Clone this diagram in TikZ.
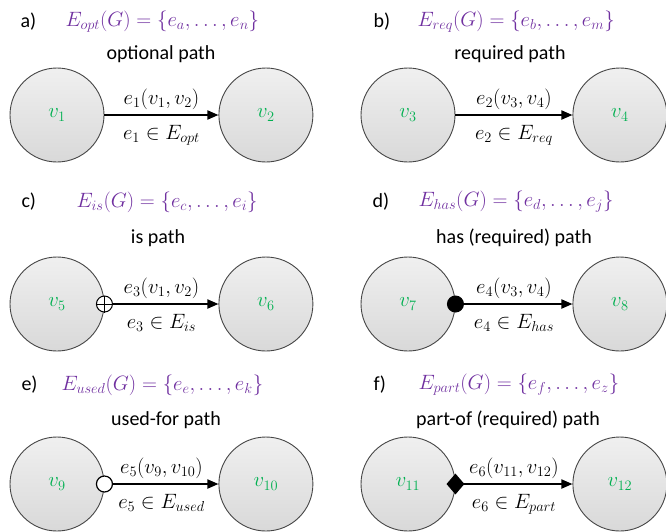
\documentclass[tikz,border=0pt]{standalone}
\usepackage{amsmath}
\usepackage{fontspec}
\setmainfont{Carlito}
\usepackage{tikz}
\usetikzlibrary{arrows.meta,positioning,shapes.geometric}
\definecolor{setpurple}{RGB}{112,48,160}
\definecolor{vgreen}{RGB}{0,176,80}
\definecolor{rimgray}{RGB}{70,70,70}

\begin{document}
\begin{tikzpicture}[
      x=1pt, y=-1pt, >={Triangle[length=11pt,width=9pt]},
      font=\fontsize{20}{24}\selectfont, node distance=114pt,
      vertex/.style={circle, draw=rimgray, line width=0.9pt, minimum size=94pt,
                     inner sep=0pt, top color=gray!12, bottom color=gray!30, text=vgreen,
                     font=\fontsize{22}{26}\selectfont},
      link/.style={->, line width=1.8pt},
      heading/.style={anchor=west},
      setdef/.style={anchor=west, text=setpurple},
      endmark/.style={circle, draw, line width=1pt, minimum size=16pt, inner sep=0pt,
                      fill=white},
      uplabel/.style={midway, above=1pt},
      downlabel/.style={midway, below=6pt},
    ]
    \useasboundingbox (0,0) rectangle (666,531);

    % a) optional
    \node[heading] (ha) at (17,22) {a)};
    \node[setdef] (sa) at (62,22) {$E_{opt}(G)=\{e_a,\dots,e_n\}$};
    \node (pa) at (161,54) {optional path};
    \node[vertex] (v1) at (57,115) {$v_1$};
    \node[vertex, right=of v1] (v2) {$v_2$};
    \draw[link] (v1) -- (v2) node[uplabel] {$e_1(v_1,v_2)$}
      node[downlabel] {$e_1\in E_{opt}$};

    % b) required
    \node[heading] (hb) at (370,22) {b)};
    \node[setdef] (sb) at (414,22) {$E_{req}(G)=\{e_b,\dots,e_m\}$};
    \node (pb) at (510,54) {required path};
    \node[vertex] (v3) at (408,115) {$v_3$};
    \node[vertex, right=117pt of v3] (v4) {$v_4$};
    \draw[link] (v3) -- (v4) node[uplabel] {$e_2(v_3,v_4)$}
      node[downlabel] {$e_2\in E_{req}$};

    % c) is
    \node[heading] (hc) at (18,202) {c)};
    \node[setdef] (sc) at (73,202) {$E_{is}(G)=\{e_c,\dots,e_i\}$};
    \node (pc) at (158,238) {is path};
    \node[vertex] (v5) at (57,304) {$v_5$};
    \node[vertex, right=of v5] (v6) {$v_6$};
    \draw[link] (v5) -- (v6) node[uplabel] {$e_3(v_1,v_2)$}
      node[downlabel] {$e_3\in E_{is}$};
    \node[endmark] (m5) at (v5.east) {};
    \draw[line width=1pt] (m5.north) -- (m5.south) (m5.west) -- (m5.east);

    % d) has
    \node[heading] (hd) at (369,202) {d)};
    \node[setdef] (sd) at (415,202) {$E_{has}(G)=\{e_d,\dots,e_j\}$};
    \node (pd) at (514,238) {has (required) path};
    \node[vertex] (v7) at (408,304) {$v_7$};
    \node[vertex, right=117pt of v7] (v8) {$v_8$};
    \draw[link] (v7) -- (v8) node[uplabel] {$e_4(v_3,v_4)$}
      node[downlabel] {$e_4\in E_{has}$};
    \node[endmark, fill=black] (m7) at (v7.east) {};

    % e) used-for
    \node[heading] (he) at (18,385) {e)};
    \node[setdef] (se) at (58,385) {$E_{used}(G)=\{e_e,\dots,e_k\}$};
    \node (pe) at (166,420) {used-for path};
    \node[vertex] (v9) at (57,484) {$v_9$};
    \node[vertex, right=of v9] (v10) {$v_{10}$};
    \draw[link] (v9) -- (v10) node[uplabel] {$e_5(v_9,v_{10})$}
      node[downlabel] {$e_5\in E_{used}$};
    \node[endmark, line width=1.2pt] (m9) at (v9.east) {};

    % f) part-of
    \node[heading] (hf) at (370,385) {f)};
    \node[setdef] (sf) at (415,385) {$E_{part}(G)=\{e_f,\dots,e_z\}$};
    \node (pf) at (508,420) {part-of (required) path};
    \node[vertex] (v11) at (408,484) {$v_{11}$};
    \node[vertex, right=117pt of v11] (v12) {$v_{12}$};
    \draw[link] (v11) -- (v12) node[uplabel] {$e_6(v_{11},v_{12})$}
      node[downlabel] {$e_6\in E_{part}$};
    \node[diamond, fill=black, minimum width=18pt, minimum height=21pt,
          inner sep=0pt] (m11) at (v11.east) {};
  \end{tikzpicture}
\end{document}
